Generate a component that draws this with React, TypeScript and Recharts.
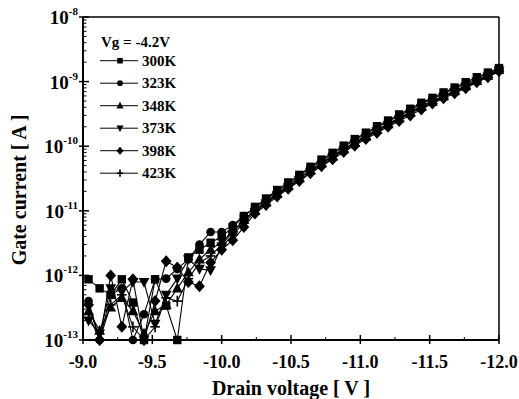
import { CartesianGrid, Legend, Line, LineChart, ReferenceLine, XAxis, YAxis } from "recharts";

const FONT = "'Liberation Serif', 'Times New Roman', serif";

// drain voltage steps (V)
const VOLTAGES = [
  -9.04, -9.12, -9.2, -9.28, -9.36, -9.44, -9.52, -9.6, -9.68, -9.76, -9.84, -9.92,
  -10.0, -10.08, -10.16, -10.24, -10.32, -10.4, -10.48, -10.56, -10.64, -10.72, -10.8,
  -10.88, -10.96, -11.04, -11.12, -11.2, -11.28, -11.36, -11.44, -11.52, -11.6, -11.68,
  -11.76, -11.84, -11.92, -12.0,
];

// gate current (A) per temperature
const I_300K = [
  8.7e-13, 6.3e-13, 5.0e-13, 8.7e-13, 3.8e-13, 1e-13, 8.7e-13, 3.4e-13, 1e-13, 1.9e-12,
  2.5e-12, 3.2e-12, 4.0e-12, 5.6e-12, 8.3e-12, 1.15e-11, 1.55e-11, 2.1e-11, 2.75e-11,
  3.6e-11, 4.8e-11, 6.2e-11, 7.9e-11, 1.02e-10, 1.29e-10, 1.62e-10, 2.04e-10, 2.5e-10,
  3.1e-10, 3.8e-10, 4.7e-10, 5.6e-10, 6.8e-10, 8.1e-10, 9.8e-10, 1.17e-9, 1.38e-9, 1.62e-9,
];
const I_323K = [
  4.0e-13, 1e-13, 5.0e-13, 6.3e-13, 1e-13, 2.5e-13, 8.7e-13, 8.9e-13, 1.26e-12, 1.78e-12,
  3.0e-12, 4.7e-12, 4.7e-12, 6.0e-12, 8.3e-12, 1.1e-11, 1.48e-11, 2.0e-11, 2.6e-11,
  3.5e-11, 4.6e-11, 5.9e-11, 7.6e-11, 9.8e-11, 1.23e-10, 1.55e-10, 1.95e-10, 2.4e-10,
  2.95e-10, 3.6e-10, 4.5e-10, 5.4e-10, 6.5e-10, 7.8e-10, 9.3e-10, 1.12e-9, 1.35e-9, 1.58e-9,
];
const I_348K = [
  2.8e-13, 1.4e-13, 3.2e-13, 4.5e-13, 2.8e-13, 1.26e-13, 2.8e-13, 3.5e-13, 6.3e-13, 1.12e-12,
  1.78e-12, 2.5e-12, 3.3e-12, 4.8e-12, 7.2e-12, 1.0e-11, 1.35e-11, 1.82e-11, 2.4e-11,
  3.2e-11, 4.2e-11, 5.4e-11, 6.9e-11, 8.9e-11, 1.12e-10, 1.41e-10, 1.78e-10, 2.2e-10,
  2.7e-10, 3.3e-10, 4.1e-10, 4.9e-10, 5.9e-10, 7.1e-10, 8.5e-10, 1.02e-9, 1.23e-9, 1.51e-9,
];
const I_373K = [
  2.0e-13, 1.26e-13, 6.3e-13, 5.6e-13, 7.9e-13, 7.9e-13, 1.78e-13, 5.0e-13, 8.9e-13, 1.78e-12,
  1.26e-12, 1.2e-12, 2.8e-12, 4.2e-12, 6.6e-12, 9.5e-12, 1.29e-11, 1.74e-11, 2.3e-11,
  3.0e-11, 4.0e-11, 5.1e-11, 6.6e-11, 8.5e-11, 1.07e-10, 1.35e-10, 1.7e-10, 2.1e-10,
  2.6e-10, 3.2e-10, 3.9e-10, 4.7e-10, 5.75e-10, 6.9e-10, 8.3e-10, 1.0e-9, 1.2e-9, 1.48e-9,
];
const I_398K = [
  3.5e-13, 1e-13, 1.0e-12, 1.6e-13, 8.7e-13, 1e-13, 4.0e-13, 1.66e-12, 1.32e-12, 7.9e-13,
  6.8e-13, 1.58e-12, 2.5e-12, 3.5e-12, 5.6e-12, 9.1e-12, 1.23e-11, 1.66e-11, 2.2e-11,
  2.9e-11, 3.8e-11, 4.9e-11, 6.3e-11, 8.1e-11, 1.02e-10, 1.29e-10, 1.62e-10, 2.0e-10,
  2.45e-10, 3.0e-10, 3.7e-10, 4.6e-10, 5.5e-10, 6.6e-10, 7.9e-10, 9.8e-10, 1.17e-9, 1.45e-9,
];
const I_423K = [
  2.5e-13, 1e-13, 3.5e-13, 5.0e-13, 1.6e-13, 1e-13, 1.6e-13, 4.5e-13, 4.0e-13, 8.9e-13,
  1.58e-12, 2.0e-12, 3.0e-12, 4.7e-12, 7.1e-12, 1.02e-11, 1.38e-11, 1.86e-11, 2.45e-11,
  3.2e-11, 4.3e-11, 5.5e-11, 7.1e-11, 9.1e-11, 1.15e-10, 1.45e-10, 1.82e-10, 2.2e-10,
  2.75e-10, 3.4e-10, 4.2e-10, 5.0e-10, 6.0e-10, 7.2e-10, 8.7e-10, 1.05e-9, 1.26e-9, 1.55e-9,
];

const X_TICKS = [-9, -9.25, -9.5, -9.75, -10, -10.25, -10.5, -10.75, -11, -11.25, -11.5, -11.75, -12];
const DECADES = [1e-13, 1e-12, 1e-11, 1e-10, 1e-9, 1e-8];
const MINOR_STEPS = [2, 3, 4, 5, 6, 7, 8, 9];

type Shape = "square" | "circle" | "up" | "down" | "diamond" | "plus";

const SERIES: { key: string; name: string; shape: Shape; values: number[] }[] = [
  { key: "t300", name: "300K", shape: "square", values: I_300K },
  { key: "t323", name: "323K", shape: "circle", values: I_323K },
  { key: "t348", name: "348K", shape: "up", values: I_348K },
  { key: "t373", name: "373K", shape: "down", values: I_373K },
  { key: "t398", name: "398K", shape: "diamond", values: I_398K },
  { key: "t423", name: "423K", shape: "plus", values: I_423K },
];

const data = VOLTAGES.map((v, i) => {
  const row: Record<string, number> = { v };
  SERIES.forEach((s) => (row[s.key] = s.values[i]));
  return row;
});

const yTicks = [
  ...DECADES,
  ...DECADES.slice(0, -1).flatMap((d) => MINOR_STEPS.map((m) => m * d)),
].sort((a, b) => a - b);

function Marker({ shape, cx, cy, s = 1 }: { shape: Shape; cx: number; cy: number; s?: number }) {
  if (cx == null || cy == null) return null;
  switch (shape) {
    case "square":
      return <rect x={cx - 3.5 * s} y={cy - 3.5 * s} width={7 * s} height={7 * s} fill="#000" />;
    case "circle":
      return <circle cx={cx} cy={cy} r={3.6 * s} fill="#000" />;
    case "up":
      return (
        <polygon
          points={`${cx},${cy - 4.8 * s} ${cx - 4.5 * s},${cy + 3.4 * s} ${cx + 4.5 * s},${cy + 3.4 * s}`}
          fill="#000"
        />
      );
    case "down":
      return (
        <polygon
          points={`${cx},${cy + 4.8 * s} ${cx - 4.5 * s},${cy - 3.4 * s} ${cx + 4.5 * s},${cy - 3.4 * s}`}
          fill="#000"
        />
      );
    case "diamond":
      return (
        <polygon
          points={`${cx},${cy - 5 * s} ${cx + 4.5 * s},${cy} ${cx},${cy + 5 * s} ${cx - 4.5 * s},${cy}`}
          fill="#000"
        />
      );
    default:
      return (
        <g stroke="#000" strokeWidth={1.6}>
          <line x1={cx - 4 * s} x2={cx + 4 * s} y1={cy} y2={cy} />
          <line x1={cx} x2={cx} y1={cy - 4.5 * s} y2={cy + 4.5 * s} />
        </g>
      );
  }
}

function YTick({ x, y, payload }: any) {
  const v = payload.value as number;
  const exp = Math.round(Math.log10(v));
  const major = Math.abs(v / Math.pow(10, exp) - 1) < 1e-6;
  return (
    <g>
      <line
        x1={major ? x - 4 : x}
        x2={x + (major ? 6 : 3.5)}
        y1={y}
        y2={y}
        stroke="#000"
        strokeWidth={major ? 1.5 : 1}
      />
      {major && (
        <text x={x - 5} y={y + 7} textAnchor="end" fontFamily={FONT} fontWeight="bold" fontSize={19} fill="#000">
          10
          <tspan dy={-9} fontSize={11}>
            {String(exp)}
          </tspan>
        </text>
      )}
    </g>
  );
}

function XTick({ x, y, payload }: any) {
  const v = payload.value as number;
  const major = Math.abs(v * 2 - Math.round(v * 2)) < 1e-6;
  return (
    <g>
      <line
        x1={x}
        x2={x}
        y1={major ? y + 4 : y}
        y2={y - (major ? 5 : 3)}
        stroke="#000"
        strokeWidth={major ? 1.5 : 1}
      />
      {major && (
        <text x={x} y={y + 28} textAnchor="middle" fontFamily={FONT} fontWeight="bold" fontSize={18} fill="#000">
          {v.toFixed(1)}
        </text>
      )}
    </g>
  );
}

function TempLegend() {
  return (
    <svg width={110} height={170} style={{ display: "block" }}>
      <text x={5} y={17} fontFamily={FONT} fontWeight="bold" fontSize={15} fill="#000">
        Vg = -4.2V
      </text>
      {SERIES.map((s, i) => {
        const cy = 30.7 + 22.5 * i;
        return (
          <g key={s.key}>
            <line x1={4} x2={42} y1={cy} y2={cy} stroke="#000" strokeWidth={1} />
            <Marker shape={s.shape} cx={24} cy={cy} s={0.8} />
            <text x={46} y={cy + 5} fontFamily={FONT} fontWeight="bold" fontSize={15} fill="#000">
              {s.name}
            </text>
          </g>
        );
      })}
    </svg>
  );
}

export default function App() {
  return (
    <div style={{ position: "absolute", left: 0, top: 0, width: 519, height: 399, background: "#fff" }}>
      <LineChart width={519} height={399} data={data} margin={{ top: 17, right: 20, bottom: 9, left: 8 }}>
        <CartesianGrid stroke="none" />
        <XAxis
          dataKey="v"
          type="number"
          domain={[-12, -9]}
          reversed
          ticks={X_TICKS}
          interval={0}
          height={50}
          tickSize={0}
          tickMargin={0}
          tickLine={false}
          axisLine={{ stroke: "#000", strokeWidth: 2 }}
          tick={<XTick />}
          label={{
            content: () => (
              <text x={291} y={395} textAnchor="middle" fontFamily={FONT} fontWeight="bold" fontSize={20} fill="#000">
                Drain voltage [ V ]
              </text>
            ),
          }}
        />
        <YAxis
          type="number"
          scale="log"
          domain={[1e-13, 1e-8]}
          ticks={yTicks}
          interval={0}
          width={75}
          tickSize={0}
          tickMargin={0}
          tickLine={false}
          axisLine={{ stroke: "#000", strokeWidth: 2 }}
          tick={<YTick />}
          label={{
            content: () => (
              <text
                transform="translate(26, 190) rotate(-90)"
                textAnchor="middle"
                fontFamily={FONT}
                fontWeight="bold"
                fontSize={20}
                fill="#000"
              >
                Gate current [ A ]
              </text>
            ),
          }}
        />
        <ReferenceLine y={1e-8} stroke="#000" strokeWidth={1.5} />
        <ReferenceLine x={-12} stroke="#000" strokeWidth={1.5} />
        <Legend
          layout="vertical"
          align="center"
          verticalAlign="middle"
          wrapperStyle={{ left: 96, top: 30, width: 110 }}
          content={() => <TempLegend />}
        />
        {SERIES.map((s) => (
          <Line
            key={s.key}
            dataKey={s.key}
            name={s.name}
            stroke="#000"
            strokeWidth={1.1}
            activeDot={false}
            isAnimationActive={false}
            dot={(p: any) => <Marker key={`${s.key}-${p.index}`} shape={s.shape} cx={p.cx} cy={p.cy} s={1.2} />}
          />
        ))}
      </LineChart>
    </div>
  );
}
